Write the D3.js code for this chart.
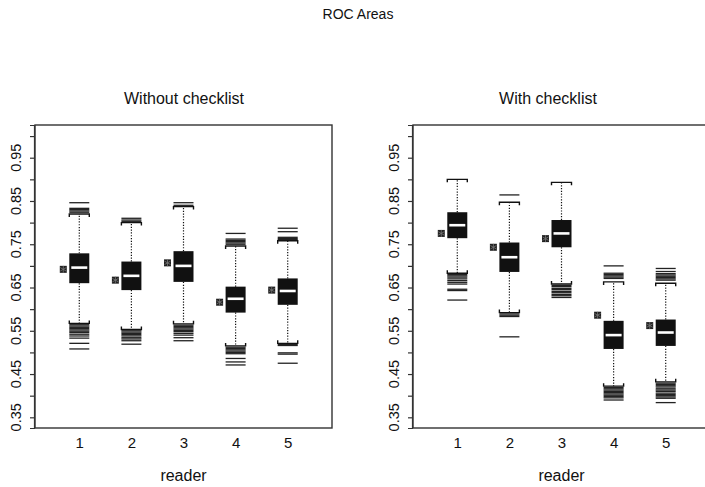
<!DOCTYPE html>
<html><head><meta charset="utf-8">
<script src="https://cdn.jsdelivr.net/npm/d3@7"></script>
<style>body{margin:0;background:#fff}svg{display:block}text{font-family:"Liberation Sans",Arial,sans-serif;fill:#111}</style>
</head><body>
<script>
// ---- data ----
const readers = [1, 2, 3, 4, 5];
const yTickValues = [0.35, 0.40, 0.45, 0.50, 0.55, 0.60, 0.65, 0.70, 0.75, 0.80, 0.85, 0.90, 0.95, 1.00];
const yLabelValues = [0.35, 0.45, 0.55, 0.65, 0.75, 0.85, 0.95];
const panelTitles = ["Without checklist", "With checklist"];

// Without checklist
const woQ1 = [0.660, 0.644, 0.663, 0.592, 0.610];
const woMed = [0.696, 0.677, 0.700, 0.624, 0.642];
const woQ3 = [0.729, 0.710, 0.734, 0.652, 0.671];
const woWhiskLo = [0.567, 0.553, 0.566, 0.515, 0.521];
const woWhiskHi = [0.820, 0.800, 0.837, 0.746, 0.758];
const woObserved = [0.692, 0.667, 0.707, 0.616, 0.644];
const woOutHi = [
  [0.846, 0.833, 0.830, 0.827, 0.824],
  [0.810, 0.806, 0.803],
  [0.846, 0.840],
  [0.775, 0.762, 0.759, 0.756, 0.753, 0.750],
  [0.787, 0.779, 0.766, 0.763, 0.761]
];
const woOutLo = [
  [0.564, 0.561, 0.558, 0.555, 0.552, 0.549, 0.546, 0.542, 0.538, 0.533, 0.521, 0.508],
  [0.550, 0.547, 0.544, 0.541, 0.538, 0.534, 0.531, 0.527, 0.519],
  [0.563, 0.560, 0.557, 0.554, 0.551, 0.548, 0.544, 0.540, 0.534, 0.527],
  [0.512, 0.509, 0.506, 0.503, 0.500, 0.497, 0.486, 0.478, 0.471],
  [0.518, 0.516, 0.499, 0.496, 0.475]
];

// With checklist
const wQ1 = [0.764, 0.686, 0.743, 0.508, 0.515];
const wMed = [0.794, 0.720, 0.775, 0.540, 0.546];
const wQ3 = [0.824, 0.754, 0.806, 0.573, 0.576];
const wWhiskLo = [0.683, 0.592, 0.658, 0.422, 0.432];
const wWhiskHi = [0.900, 0.847, 0.893, 0.663, 0.660];
const wObserved = [0.775, 0.743, 0.763, 0.586, 0.562];
const wOutHi = [
  [],
  [0.864],
  [],
  [0.700, 0.683, 0.680, 0.677, 0.674, 0.671],
  [0.694, 0.687, 0.682, 0.679, 0.676, 0.673, 0.670, 0.667]
];
const wOutLo = [
  [0.680, 0.677, 0.674, 0.670, 0.666, 0.662, 0.658, 0.646, 0.643, 0.621],
  [0.589, 0.586, 0.583, 0.536],
  [0.655, 0.652, 0.648, 0.645, 0.641, 0.638, 0.634, 0.631, 0.627],
  [0.419, 0.416, 0.413, 0.410, 0.407, 0.404, 0.401, 0.398, 0.395, 0.390],
  [0.429, 0.426, 0.423, 0.420, 0.416, 0.413, 0.410, 0.406, 0.403, 0.400, 0.397, 0.394, 0.384]
];

function buildRows(q1, med, q3, lo, hi, obs, oh, ol) {
  return readers.map((r, i) => ({reader: r, q1: q1[i], med: med[i], q3: q3[i], lo: lo[i], hi: hi[i], obs: obs[i], outHi: oh[i], outLo: ol[i]}));
}
const panels = [
  {title: panelTitles[0], rows: buildRows(woQ1, woMed, woQ3, woWhiskLo, woWhiskHi, woObserved, woOutHi, woOutLo), left: 35, titleX: 184, labelX: 16},
  {title: panelTitles[1], rows: buildRows(wQ1, wMed, wQ3, wWhiskLo, wWhiskHi, wObserved, wOutHi, wOutLo), left: 413, titleX: 548, labelX: 394}
];

// ---- layout ----
const W = 705, H = 487;
const plotTop = 125, plotBottom = 428, pw = 297;
const svg = d3.select("body").append("svg").attr("width", W).attr("height", H);

svg.append("text").attr("x", 358).attr("y", 19).attr("text-anchor", "middle")
  .style("font-size", "14px").text("ROC Areas");

const y = d3.scaleLinear().domain([0.3253, 1.0256]).range([plotBottom, plotTop]);
const boxW = 20, medW = 16, capTick = 3, starOff = 16;

panels.forEach(p => {
  const x = d3.scaleLinear().domain([0.15, 5.85]).range([p.left, p.left + pw]);
  const g = svg.append("g");

  g.append("text").attr("x", p.titleX).attr("y", 104).attr("text-anchor", "middle")
    .style("font-size", "16px").text(p.title);

  // frame
  g.append("rect").attr("x", p.left).attr("y", plotTop).attr("width", pw).attr("height", plotBottom - plotTop)
    .attr("fill", "none").attr("stroke", "#333").attr("stroke-width", 1.4);

  // y axis ticks
  const yAxis = d3.axisLeft(y).tickValues(yTickValues).tickSize(4).tickFormat("");
  const ya = g.append("g").attr("transform", `translate(${p.left - 1},0)`).call(yAxis);
  ya.select(".domain").attr("stroke", "#333").attr("stroke-width", 1.2);
  ya.selectAll(".tick line").attr("stroke", "#333").attr("stroke-width", 1.2);

  g.selectAll(".ylab").data(yLabelValues).join("text")
    .attr("transform", d => `translate(${p.labelX + 5},${y(d)}) rotate(-90)`)
    .attr("text-anchor", "middle").style("font-size", "14.5px")
    .text(d => d3.format(".2f")(d));

  // x labels
  const xAxis = d3.axisBottom(x).tickValues(readers).tickSize(0).tickFormat(d3.format("d"));
  const xa = g.append("g").attr("transform", `translate(0,${plotBottom})`).call(xAxis);
  xa.select(".domain").remove();
  xa.selectAll("text").attr("y", 9).style("font-size", "15px")
    .style("font-family", "'Liberation Sans',Arial,sans-serif").attr("fill", "#111");

  g.append("text").attr("x", x(3)).attr("y", 481).attr("text-anchor", "middle")
    .style("font-size", "16px").text("reader");

  const b = g.selectAll(".bx").data(p.rows).join("g");

  // whiskers (dotted)
  b.append("line").attr("x1", d => x(d.reader)).attr("x2", d => x(d.reader))
    .attr("y1", d => y(d.q3)).attr("y2", d => y(d.hi))
    .attr("stroke", "#111").attr("stroke-width", 1.2).attr("stroke-dasharray", "1.2,1.6");
  b.append("line").attr("x1", d => x(d.reader)).attr("x2", d => x(d.reader))
    .attr("y1", d => y(d.q1)).attr("y2", d => y(d.lo))
    .attr("stroke", "#111").attr("stroke-width", 1.2).attr("stroke-dasharray", "1.2,1.6");

  // caps (brackets)
  b.append("path").attr("d", d => {
    const cx = x(d.reader), yy = y(d.hi);
    return `M${cx - boxW / 2},${yy + capTick}V${yy}H${cx + boxW / 2}V${yy + capTick}`;
  }).attr("fill", "none").attr("stroke", "#111").attr("stroke-width", 1.4);
  b.append("path").attr("d", d => {
    const cx = x(d.reader), yy = y(d.lo);
    return `M${cx - boxW / 2},${yy - capTick}V${yy}H${cx + boxW / 2}V${yy - capTick}`;
  }).attr("fill", "none").attr("stroke", "#111").attr("stroke-width", 1.4);

  // outliers as horizontal lines
  b.each(function(d) {
    const outs = d.outHi.concat(d.outLo);
    d3.select(this).selectAll(".out").data(outs).join("line")
      .attr("x1", x(d.reader) - boxW / 2).attr("x2", x(d.reader) + boxW / 2)
      .attr("y1", v => y(v)).attr("y2", v => y(v))
      .attr("stroke", "#222").attr("stroke-width", 1.3);
  });

  // box
  b.append("rect").attr("x", d => x(d.reader) - boxW / 2).attr("width", boxW)
    .attr("y", d => y(d.q3)).attr("height", d => y(d.q1) - y(d.q3))
    .attr("fill", "#111");
  // median
  b.append("line").attr("x1", d => x(d.reader) - medW / 2).attr("x2", d => x(d.reader) + medW / 2)
    .attr("y1", d => y(d.med)).attr("y2", d => y(d.med))
    .attr("stroke", "#fff").attr("stroke-width", 2.6);

  // observed value star
  const sym = d3.symbolAsterisk || d3.symbolCross;
  b.append("rect").attr("x", d => x(d.reader) - starOff - 3.5).attr("y", d => y(d.obs) - 3.5)
    .attr("width", 7).attr("height", 7).attr("fill", "#222");
  b.append("path").attr("d", d3.symbol().type(sym).size(34))
    .attr("transform", d => `translate(${x(d.reader) - starOff},${y(d.obs)})`)
    .attr("fill", "none").attr("stroke", "#777").attr("stroke-width", 0.8);
});
</script>
</body></html>
